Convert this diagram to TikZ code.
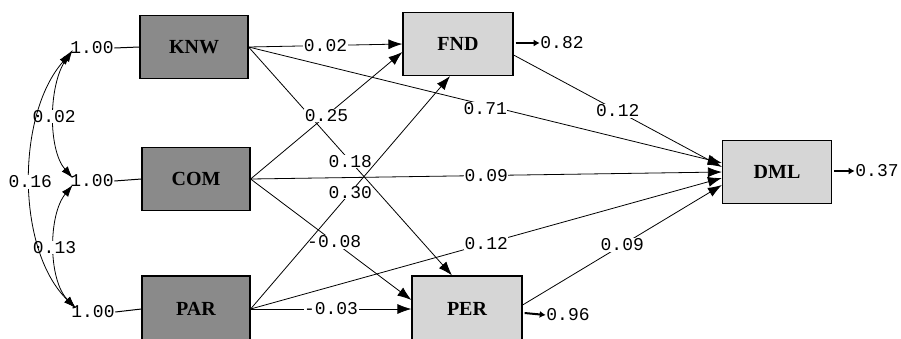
\documentclass[tikz,border=0pt]{standalone}
\usepackage{fontspec}
\setmainfont{Liberation Serif}
\newfontfamily\monof{Liberation Mono}
\usetikzlibrary{arrows.meta,calc}
\begin{document}
\begin{tikzpicture}[x=1pt,y=-1pt,
  box/.style={draw, line width=1.2pt, minimum width=108pt, minimum height=63pt,
    inner sep=0pt, font=\bfseries\fontsize{20}{20}\selectfont},
  exo/.style={box, fill=black!46},
  endo/.style={box, fill=black!16},
  lab/.style={fill=white, inner sep=0.5pt, font=\monof\fontsize{18}{18}\selectfont},
  txt/.style={inner sep=0.5pt, font=\monof\fontsize{18}{18}\selectfont},
  pth/.style={line width=0.8pt, -{Latex[length=14pt,width=10pt]}},
  cov/.style={line width=0.8pt, {Latex[length=12pt,width=8pt]}-{Latex[length=12pt,width=8pt]}},
  err/.style={line width=2pt, -{Latex[length=6pt,width=7pt]}},
  plain/.style={line width=1pt}
]
\useasboundingbox (0,0) rectangle (901,338);

% boxes
\node[exo] (KNW) at (194,47) {KNW};
\node[exo] (COM) at (196,179) {COM};
\node[exo, minimum height=66pt] (PAR) at (196,309) {PAR};
\node[endo, minimum width=110pt] (FND) at (458,44) {FND};
\node[endo, minimum width=110pt, minimum height=66pt] (PER) at (467,309) {PER};
\node[endo, minimum width=109pt] (DML) at (777,172) {DML};

% variances of exogenous
\node[txt] (kv) at (92,48) {1.00};
\node[txt] (cv) at (92,181) {1.00};
\node[txt] (pv) at (93,312) {1.00};
\draw[plain] (kv.east) -- (KNW.west);
\draw[plain] (cv.east) -- (COM.west);
\draw[plain] (pv.east) -- (PAR.west);

% covariances
\draw[cov] ($(kv.west)+(3,2)$) .. controls (48,85) and (48,150) .. ($(cv.west)+(3,-3)$)
  node[lab, pos=0.5] {0.02};
\draw[cov] ($(cv.west)+(3,4)$) .. controls (48,215) and (48,280) .. ($(pv.west)+(5,-4)$)
  node[lab, pos=0.5] {0.13};
\draw[cov] ($(kv.west)+(1,5)$) .. controls (16,115) and (16,250) .. ($(pv.west)+(5,-4)$)
  node[lab, pos=0.5] {0.16};

% structural paths
\draw[pth] (KNW.east) -- node[lab] {0.02} (FND.west);
\draw[pth] (KNW.east) -- node[lab, yshift=-4pt] {0.71} ([yshift=9pt]DML.west);
\draw[pth] (KNW.east) -- node[lab] {0.18} ([xshift=-15pt]PER.north);
\draw[pth] (COM.east) -- node[lab] {0.25} ([yshift=-8pt]FND.west);
\draw[pth] (COM.east) -- node[lab] {0.09} (DML.west);
\draw[pth] (COM.east) -- node[lab, pos=0.52] {-0.08} ([yshift=9pt]PER.west);
\draw[pth] (PAR.east) -- node[lab] {0.30} ([xshift=-8pt]FND.south);
\draw[pth] (PAR.east) -- node[lab] {0.12} ([yshift=-6pt]DML.west);
\draw[pth] (PAR.east) -- node[lab] {-0.03} (PER.west);
\draw[pth] ([yshift=-11pt]FND.east) -- node[lab] {0.12} ([yshift=5pt]DML.west);
\draw[pth] ([yshift=4pt]PER.east) -- node[lab] {0.09} ([yshift=-13pt]DML.west);

% error variances
\node[txt] (e1) at (562,43) {0.82};
\node[txt] (e2) at (877,171) {0.37};
\node[txt] (e3) at (568,315) {0.96};
\draw[err] ([xshift=2pt,yshift=1pt]FND.east) -- (e1.west);
\draw[err] ([xshift=2pt,yshift=1pt]DML.east) -- (e2.west);
\draw[err] ([xshift=2pt,yshift=-4pt]PER.east) -- (e3.west);
\end{tikzpicture}
\end{document}
